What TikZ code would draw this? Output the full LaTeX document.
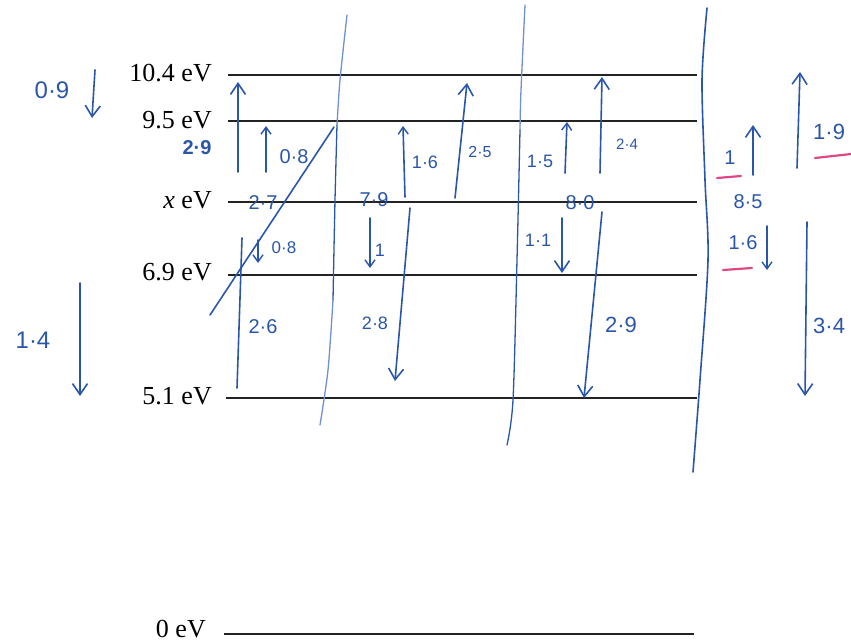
\documentclass[tikz,border=0pt]{standalone}
\usepackage{fontspec}
\setmainfont{Liberation Serif}
\newfontfamily\hand{Liberation Sans}
\usetikzlibrary{arrows.meta}
\definecolor{ink}{RGB}{42,86,170}
\definecolor{faint}{RGB}{110,145,210}
\definecolor{pinkink}{RGB}{222,72,132}
\definecolor{lvl}{RGB}{35,35,35}
\begin{document}
\begin{tikzpicture}[x=1pt,y=-1pt,
  level/.style={lvl, line width=2.5pt},
  lab/.style={anchor=east, font=\fontsize{26}{26}\selectfont, inner sep=0pt},
  pen/.style={ink, line width=1.6pt, line cap=round, line join=round},
  arr/.style={pen, -{Straight Barb[length=11pt,width=15pt,line width=1.6pt]}},
  sarr/.style={pen, -{Straight Barb[length=7pt,width=10pt,line width=1.4pt]}},
  hw/.style={ink, font=\hand\fontsize{#1}{#1}\selectfont, inner sep=0pt},
  hw/.default=20,
  sep/.style={line width=1.3pt, line cap=round},
  uline/.style={pinkink, line width=2.2pt, line cap=round}
  ]
\useasboundingbox (0,0) rectangle (851,643);

% ---- energy levels ----
\node[lab] (l104) at (212,73) {10.4 eV};
\node[lab] (l95)  at (212,120) {9.5 eV};
\node[lab] (lx)   at (212,200) {\textit{x} eV};
\node[lab] (l69)  at (212,272) {6.9 eV};
\node[lab] (l51)  at (212,396) {5.1 eV};
\node[lab] (l0)   at (206,629) {0 eV};

\coordinate (a104) at (228,75);  \coordinate (b104) at (697,75);
\coordinate (a95)  at (228,121); \coordinate (b95)  at (697,121);
\coordinate (ax)   at (228,202); \coordinate (bx)   at (697,202);
\coordinate (a69)  at (228,275); \coordinate (b69)  at (697,275);
\coordinate (a51)  at (226,398); \coordinate (b51)  at (697,398);
\coordinate (a0)   at (224,634); \coordinate (b0)   at (694,634);
\draw[level] (a104) -- (b104);
\draw[level] (a95) -- (b95);
\draw[level] (ax) -- (bx);
\draw[level] (a69) -- (b69);
\draw[level] (a51) -- (b51);
\draw[level] (a0) -- (b0);

% ---- separator lines ----
\draw[sep, faint] plot[smooth] coordinates {(347,15) (340,80) (337,125)};
\draw[sep, ink] plot[smooth] coordinates {(337,125) (335,200) (333,300)};
\draw[sep, faint] plot[smooth] coordinates {(333,300) (328,370) (320,425)};
\draw[sep, faint] plot[smooth] coordinates {(525,5) (521,90) (520,130)};
\draw[sep, ink] plot[smooth] coordinates {(520,130) (517,260) (513,400) (507,445)};
\draw[sep, ink, line width=1.6pt] plot[smooth] coordinates {(707,8) (702,80) (705,180) (708,260) (700,380) (693,472)};

% ---- left annotations ----
\node[hw=24] (t09) at (52,90) {0·9};
\draw[arr] (95,70) -- (92,118);
\node[hw=24] (t14) at (33,340) {1·4};
\draw[arr] (80,283) -- (80,396);

% ---- column 1 ----
\draw[arr] (238,172) -- (238,82);
\node[hw=20, font=\hand\bfseries\fontsize{20}{20}\selectfont] (t29a) at (197,148) {2·9};
\draw[sarr] (266,172) -- (266,126);
\node[hw=20] (t08a) at (294,157) {0·8};
\draw[pen] (210,315) -- (334,127);
\node[hw=20] (t27) at (263,203) {2·7};
\draw[sarr] (258,240) -- (258,263);
\node[hw=17] (t08b) at (284,248) {0·8};
\draw[pen] (242,238) -- (237,388);
\node[hw=20] (t26) at (263,327) {2·6};

% ---- column 2 ----
\node[hw=20] (t79) at (374,200) {7·9};
\draw[sarr] (370,218) -- (370,268);
\node[hw=18] (t1a) at (380,250) {1};
\draw[sarr] (405,197) -- (403,126);
\node[hw=18] (t16a) at (425,162) {1·6};
\draw[arr] (410,208) -- (395,381);
\node[hw=18] (t28) at (375,323) {2·8};
\draw[arr] (455,198) -- (467,83);
\node[hw=16] (t25) at (480,152) {2·5};

% ---- column 3 ----
\node[hw=18] (t15) at (540,161) {1·5};
\draw[sarr] (565,173) -- (567,122);
\node[hw=20] (t80) at (580,203) {8·0};
\node[hw=18] (t11) at (538,240) {1·1};
\draw[arr] (562,218) -- (562,273);
\draw[arr] (600,173) -- (602,77);
\node[hw=15] (t24) at (627,144) {2·4};
\draw[arr] (602,212) -- (584,398);
\node[hw=22] (t29b) at (621,325) {2·9};

% ---- right annotations ----
\node[hw=20] (t1b) at (730,158) {1};
\draw[uline] (717,178) -- (741,176);
\draw[arr] (753,175) -- (753,125);
\node[hw=20] (t85) at (748,202) {8·5};
\node[hw=20] (t16b) at (743,243) {1·6};
\draw[uline] (723,270) -- (752,268);
\draw[sarr] (767,226) -- (767,270);
\draw[arr] (797,168) -- (800,72);
\node[hw=22, anchor=west] (t19) at (813,132) {1·9};
\draw[uline] (815,158) -- (851,154);
\draw[arr] (807,222) -- (805,396);
\node[hw=22, anchor=west] (t34) at (813,326) {3·4};
\end{tikzpicture}
\end{document}
